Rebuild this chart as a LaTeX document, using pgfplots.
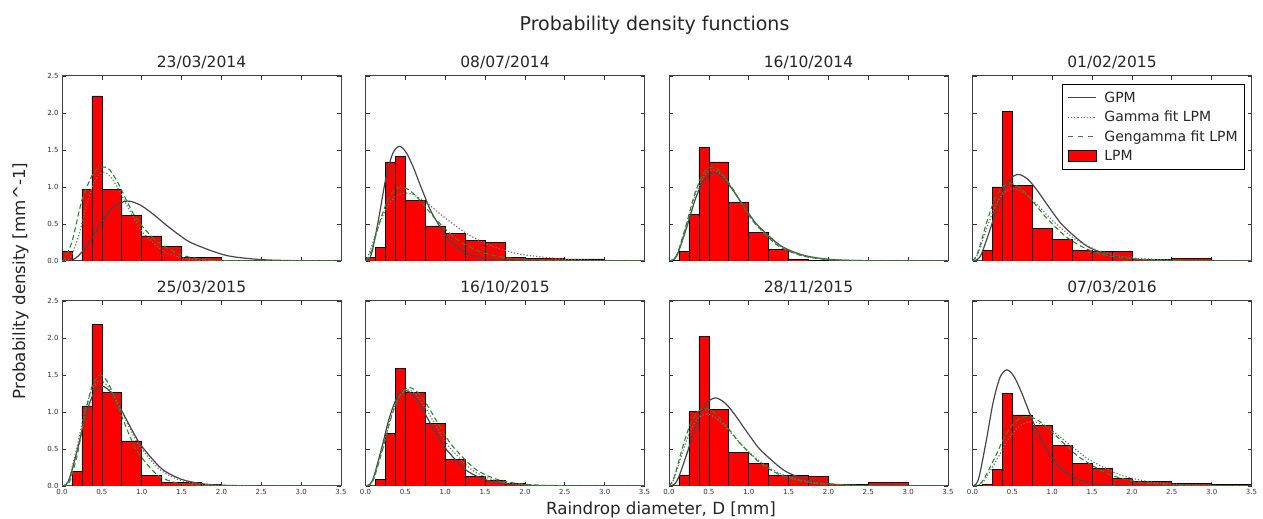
\documentclass[border=0pt]{standalone}
\usepackage{fontspec}
\setmainfont{DejaVu Sans}
\usepackage{pgfplots}
\pgfplotsset{compat=1.18}
\definecolor{gpmgray}{rgb}{0.28,0.28,0.28}
\definecolor{dotgray}{rgb}{0.45,0.45,0.45}
\definecolor{mplgreen}{rgb}{0.15,0.55,0.15}

\pgfplotsset{
  every axis title/.style={at={(0.5,1)}, anchor=base, yshift=8.5pt, inner sep=0pt,
    font=\fontsize{15.5}{18}\selectfont, text=black!85},
  panel/.style={
    scale only axis, width=279pt, height=185pt, anchor=south west,
    xmin=0, xmax=3.5, ymin=0, ymax=2.5,
    xtick={0,0.5,...,3.5}, ytick={0,0.5,...,2.5},
    tick align=inside, xtick pos=both, ytick pos=both,
    major tick length=4pt,
    tick style={black!80, line width=0.6pt},
    axis line style={black!75, line width=1pt},
    ticklabel style={font=\fontsize{7}{8}\selectfont, text=black!80},
    /pgf/number format/fixed, /pgf/number format/fixed zerofill,
    /pgf/number format/precision=1, /pgf/number format/assume math mode=true,
  },
  noxlab/.style={xticklabels={}},
  noylab/.style={yticklabels={}},
  hist/.style={ybar interval, fill=red, draw=black, line width=0.6pt, forget plot},
  gpm/.style={color=gpmgray, line width=1.2pt, smooth, forget plot},
  gam/.style={color=dotgray, line width=1.2pt, dotted, smooth, forget plot},
  gen/.style={color=mplgreen, line width=1.1pt, dash pattern=on 5pt off 3pt, smooth, forget plot},
}

\begin{document}
\begin{tikzpicture}
\fill[white, use as bounding box] (0pt,0pt) rectangle (1263pt,519pt);

% ---------------- top row ----------------
\begin{axis}[panel, noxlab, at={(62pt,258pt)}, title={23/03/2014}]
\addplot[hist] coordinates {(0,0.135) (0.125,0) (0.25,0.97) (0.375,2.23) (0.5,0.97) (0.75,0.62) (1.0,0.34) (1.25,0.2) (1.5,0.054) (1.75,0.054) (2.0,0)};
\addplot[gpm] coordinates {(0,0) (0.164,0.032) (0.328,0.228) (0.492,0.52) (0.656,0.739) (0.82,0.81) (0.984,0.755) (1.148,0.629) (1.312,0.482) (1.476,0.347) (1.64,0.237) (2.05,0.078) (2.46,0.022) (2.87,0.0055) (3.28,0.0013) (3.5,0.0005)};
\addplot[gam] coordinates {(0,0) (0.104,0.047) (0.208,0.338) (0.312,0.77) (0.416,1.094) (0.52,1.2) (0.624,1.118) (0.728,0.931) (0.832,0.714) (0.936,0.514) (1.04,0.352) (1.3,0.116) (1.56,0.033) (1.82,0.008) (2.08,0.002) (3.5,0)};
\addplot[gen] coordinates {(0,0) (0.03,0.03) (0.125,0.26) (0.25,0.82) (0.375,1.15) (0.45,1.25) (0.53,1.27) (0.6,1.23) (0.7,1.06) (0.8,0.84) (0.9,0.63) (1.0,0.48) (1.125,0.33) (1.25,0.22) (1.5,0.08) (1.75,0.025) (2.0,0.006) (2.5,0.001) (3.5,0)};
\end{axis}

\begin{axis}[panel, noxlab, noylab, at={(365.5pt,258pt)}, title={08/07/2014}]
\addplot[hist] coordinates {(0,0.054) (0.125,0.18) (0.25,1.34) (0.375,1.41) (0.5,0.82) (0.75,0.475) (1.0,0.375) (1.25,0.28) (1.5,0.25) (1.75,0.054) (2.0,0.03) (2.5,0.027) (3.0,0)};
\addplot[gpm] coordinates {(0,0) (0.042,0.023) (0.085,0.137) (0.17,0.6) (0.254,1.111) (0.339,1.446) (0.424,1.55) (0.509,1.469) (0.594,1.282) (0.678,1.049) (0.763,0.82) (0.848,0.617) (1.06,0.269) (1.272,0.104) (1.484,0.037) (1.696,0.012) (2.12,0.0012) (3.5,0)};
\addplot[gam] coordinates {(0,0) (0.05,0.112) (0.1,0.273) (0.2,0.572) (0.3,0.779) (0.4,0.889) (0.5,0.92) (0.6,0.896) (0.7,0.836) (0.8,0.757) (0.9,0.669) (1.0,0.581) (1.25,0.384) (1.5,0.238) (1.75,0.142) (2.0,0.082) (2.5,0.025) (3.0,0.0075) (3.5,0.002)};
\addplot[gen] coordinates {(0,0) (0.045,0.06) (0.09,0.198) (0.18,0.531) (0.27,0.801) (0.36,0.955) (0.45,1.0) (0.54,0.965) (0.63,0.881) (0.72,0.771) (0.81,0.654) (0.9,0.541) (1.125,0.311) (1.35,0.165) (1.575,0.083) (1.8,0.04) (2.25,0.008) (2.7,0.0016) (3.5,0)};
\end{axis}

\begin{axis}[panel, noxlab, noylab, at={(669pt,258pt)}, title={16/10/2014}]
\addplot[hist] coordinates {(0,0.01) (0.125,0.126) (0.25,0.63) (0.375,1.53) (0.5,1.34) (0.75,0.79) (1.0,0.39) (1.25,0.16) (1.5,0.02) (1.75,0.013) (2.0,0)};
\addplot[gpm] coordinates {(0,0) (0.056,0.018) (0.112,0.105) (0.224,0.461) (0.336,0.853) (0.448,1.11) (0.56,1.19) (0.672,1.128) (0.784,0.984) (0.896,0.806) (1.008,0.63) (1.12,0.474) (1.4,0.207) (1.68,0.08) (1.96,0.028) (2.24,0.0094) (2.8,0.001) (3.5,0)};
\addplot[gam] coordinates {(0,0) (0.055,0.018) (0.11,0.108) (0.22,0.476) (0.33,0.882) (0.44,1.148) (0.55,1.23) (0.66,1.166) (0.77,1.017) (0.88,0.833) (0.99,0.651) (1.1,0.49) (1.375,0.214) (1.65,0.082) (1.925,0.029) (2.2,0.0097) (2.75,0.001) (3.5,0)};
\addplot[gen] coordinates {(0,0) (0.054,0.019) (0.108,0.112) (0.216,0.491) (0.324,0.911) (0.432,1.185) (0.54,1.27) (0.648,1.204) (0.756,1.05) (0.864,0.86) (0.972,0.672) (1.08,0.505) (1.35,0.22) (1.62,0.085) (1.89,0.03) (2.16,0.01) (2.7,0.001) (3.5,0)};
\end{axis}

\begin{axis}[panel, noxlab, noylab, at={(972.5pt,258pt)}, title={01/02/2015},
  legend cell align=left,
  legend style={at={(1,1)}, anchor=north east, xshift=-6.5pt, yshift=-8.3pt,
    draw=black, line width=0.8pt, font=\fontsize{14}{16}\selectfont, text=black!85,
    nodes={inner sep=2pt}, row sep=3.5pt, inner xsep=5pt, inner ysep=5pt,
    /tikz/every odd column/.append style={column sep=6pt}}]
\addlegendimage{legend image code/.code={\draw[gpmgray, line width=1.2pt] (0pt,0pt) -- (28pt,0pt);}}
\addlegendentry{GPM}
\addlegendimage{legend image code/.code={\draw[dotgray, line width=1.2pt, dotted] (0pt,0pt) -- (28pt,0pt);}}
\addlegendentry{Gamma fit LPM}
\addlegendimage{legend image code/.code={\draw[mplgreen, line width=1.1pt, dash pattern=on 5pt off 5pt] (0pt,0pt) -- (28pt,0pt);}}
\addlegendentry{Gengamma fit LPM}
\addlegendimage{legend image code/.code={\draw[fill=red, draw=black, line width=0.6pt] (0pt,-5.5pt) rectangle (28pt,5.5pt);}}
\addlegendentry{LPM}
\addplot[hist] coordinates {(0.125,0.144) (0.25,1.0) (0.375,2.02) (0.5,1.02) (0.75,0.44) (1.0,0.29) (1.25,0.14) (1.5,0.135) (1.75,0.13) (2.0,0.018) (2.5,0.036) (3.0,0)};
\addplot[gpm] coordinates {(0,0) (0.057,0.018) (0.115,0.103) (0.229,0.453) (0.344,0.839) (0.458,1.092) (0.573,1.17) (0.688,1.109) (0.802,0.968) (0.917,0.792) (1.031,0.619) (1.146,0.466) (1.433,0.203) (1.719,0.078) (2.006,0.028) (2.292,0.0092) (2.865,0.0009) (3.5,0)};
\addplot[gam] coordinates {(0,0) (0.051,0.059) (0.102,0.194) (0.204,0.52) (0.306,0.785) (0.408,0.936) (0.51,0.98) (0.612,0.946) (0.714,0.863) (0.816,0.756) (0.918,0.641) (1.02,0.53) (1.275,0.305) (1.53,0.162) (1.785,0.081) (2.04,0.039) (2.55,0.0082) (3.06,0.0016) (3.5,0.0003)};
\addplot[gen] coordinates {(0,0) (0.047,0.064) (0.094,0.208) (0.188,0.558) (0.282,0.841) (0.376,1.003) (0.47,1.05) (0.564,1.013) (0.658,0.925) (0.752,0.81) (0.846,0.687) (0.94,0.568) (1.175,0.327) (1.41,0.173) (1.645,0.087) (1.88,0.042) (2.35,0.0088) (2.82,0.0017) (3.5,0.0003)};
\end{axis}

% ---------------- bottom row ----------------
\begin{axis}[panel, at={(62pt,33pt)}, title={25/03/2015}]
\addplot[hist] coordinates {(0.125,0.2) (0.25,1.08) (0.375,2.185) (0.5,1.27) (0.75,0.61) (1.0,0.148) (1.25,0.05) (1.5,0.05) (1.75,0.027) (2.0,0.01) (2.5,0)};
\addplot[gpm] coordinates {(0,0) (0.05,0.02) (0.1,0.119) (0.2,0.522) (0.3,0.968) (0.4,1.26) (0.5,1.35) (0.6,1.28) (0.7,1.116) (0.8,0.914) (0.9,0.714) (1.0,0.537) (1.25,0.234) (1.5,0.09) (1.75,0.032) (2.0,0.0107) (2.5,0.001) (3.5,0)};
\addplot[gam] coordinates {(0,0) (0.048,0.021) (0.096,0.125) (0.192,0.55) (0.288,1.018) (0.384,1.325) (0.48,1.42) (0.576,1.346) (0.672,1.174) (0.768,0.961) (0.864,0.751) (0.96,0.565) (1.2,0.247) (1.44,0.095) (1.68,0.034) (1.92,0.011) (2.4,0.0011) (3.5,0)};
\addplot[gen] coordinates {(0,0) (0.048,0.0056) (0.096,0.059) (0.192,0.423) (0.288,0.963) (0.384,1.368) (0.48,1.5) (0.576,1.398) (0.672,1.164) (0.768,0.893) (0.864,0.642) (0.96,0.44) (1.2,0.145) (1.44,0.041) (1.68,0.01) (1.92,0.0024) (3.5,0)};
\end{axis}

\begin{axis}[panel, noylab, at={(365.5pt,33pt)}, title={16/10/2015}]
\addplot[hist] coordinates {(0.125,0.094) (0.25,0.71) (0.375,1.59) (0.5,1.26) (0.75,0.85) (1.0,0.364) (1.25,0.13) (1.5,0.072) (1.75,0.03) (2.0,0.012) (2.5,0)};
\addplot[gpm] coordinates {(0,0) (0.05,0.019) (0.1,0.114) (0.2,0.499) (0.3,0.925) (0.4,1.204) (0.5,1.29) (0.6,1.223) (0.7,1.067) (0.8,0.873) (0.9,0.682) (1.0,0.513) (1.25,0.224) (1.5,0.086) (1.75,0.031) (2.0,0.0102) (2.5,0.001) (3.5,0)};
\addplot[gam] coordinates {(0,0) (0.053,0.0195) (0.106,0.115) (0.212,0.503) (0.318,0.932) (0.424,1.213) (0.53,1.3) (0.636,1.232) (0.742,1.075) (0.848,0.88) (0.954,0.688) (1.06,0.517) (1.325,0.226) (1.59,0.087) (1.855,0.031) (2.12,0.0103) (2.65,0.001) (3.5,0)};
\addplot[gen] coordinates {(0,0) (0.055,0.02) (0.11,0.117) (0.22,0.515) (0.33,0.954) (0.44,1.241) (0.55,1.33) (0.66,1.261) (0.77,1.1) (0.88,0.9) (0.99,0.704) (1.1,0.529) (1.375,0.231) (1.65,0.089) (1.925,0.0315) (2.2,0.0105) (2.75,0.001) (3.5,0)};
\end{axis}

\begin{axis}[panel, noylab, at={(669pt,33pt)}, title={28/11/2015}]
\addplot[hist] coordinates {(0.125,0.15) (0.25,1.01) (0.375,2.02) (0.5,1.03) (0.75,0.45) (1.0,0.3) (1.25,0.14) (1.5,0.14) (1.75,0.126) (2.0,0.027) (2.5,0.045) (3.0,0)};
\addplot[gpm] coordinates {(0,0) (0.058,0.018) (0.116,0.105) (0.232,0.461) (0.348,0.853) (0.464,1.11) (0.58,1.19) (0.696,1.128) (0.812,0.984) (0.928,0.806) (1.044,0.63) (1.16,0.474) (1.45,0.207) (1.74,0.08) (2.03,0.028) (2.32,0.0094) (2.9,0.001) (3.5,0)};
\addplot[gam] coordinates {(0,0) (0.047,0.059) (0.094,0.192) (0.188,0.515) (0.282,0.777) (0.376,0.926) (0.47,0.97) (0.564,0.936) (0.658,0.855) (0.752,0.748) (0.846,0.634) (0.94,0.525) (1.175,0.302) (1.41,0.16) (1.645,0.08) (1.88,0.0385) (2.35,0.0081) (2.82,0.0016) (3.5,0.0003)};
\addplot[gen] coordinates {(0,0) (0.045,0.064) (0.09,0.208) (0.18,0.558) (0.27,0.841) (0.36,1.003) (0.45,1.05) (0.54,1.013) (0.63,0.925) (0.72,0.81) (0.81,0.687) (0.9,0.568) (1.125,0.327) (1.35,0.173) (1.575,0.087) (1.8,0.042) (2.25,0.0088) (2.7,0.0017) (3.5,0.0002)};
\end{axis}

\begin{axis}[panel, noylab, at={(972.5pt,33pt)}, title={07/03/2016}]
\addplot[hist] coordinates {(0,0.01) (0.125,0.027) (0.25,0.22) (0.375,1.255) (0.5,0.96) (0.75,0.82) (1.0,0.55) (1.25,0.3) (1.5,0.234) (1.75,0.108) (2.0,0.067) (2.5,0.04) (3.0,0.018) (3.5,0)};
\addplot[gpm] coordinates {(0,0) (0.043,0.024) (0.086,0.138) (0.172,0.608) (0.258,1.126) (0.344,1.465) (0.43,1.57) (0.516,1.488) (0.602,1.298) (0.688,1.063) (0.774,0.831) (0.86,0.625) (1.075,0.273) (1.29,0.105) (1.505,0.037) (1.72,0.0124) (2.15,0.0013) (3.5,0)};
\addplot[gam] coordinates {(0,0) (0.074,0.013) (0.148,0.077) (0.296,0.337) (0.444,0.624) (0.592,0.812) (0.74,0.87) (0.888,0.825) (1.036,0.719) (1.184,0.589) (1.332,0.46) (1.48,0.346) (1.85,0.151) (2.22,0.058) (2.59,0.0206) (2.96,0.0069) (3.5,0.0015)};
\addplot[gen] coordinates {(0,0) (0.068,0.014) (0.136,0.083) (0.272,0.364) (0.408,0.674) (0.544,0.877) (0.68,0.94) (0.816,0.891) (0.952,0.777) (1.088,0.636) (1.224,0.497) (1.36,0.374) (1.7,0.163) (2.04,0.063) (2.38,0.0223) (2.72,0.0074) (3.4,0.0007) (3.5,0.0005)};
\end{axis}

% ---------------- figure texts ----------------
\node[anchor=base, font=\fontsize{19}{22}\selectfont, text=black!85] at (654.5pt,488pt) {Probability density functions};
\node[anchor=base, font=\fontsize{16.7}{20}\selectfont, text=black!85] at (661pt,4pt) {Raindrop diameter, D [mm]};
\node[anchor=base, rotate=90, font=\fontsize{16.7}{20}\selectfont, text=black!85] at (25pt,238pt) {Probability density [mm\textasciicircum-1]};
\end{tikzpicture}
\end{document}
